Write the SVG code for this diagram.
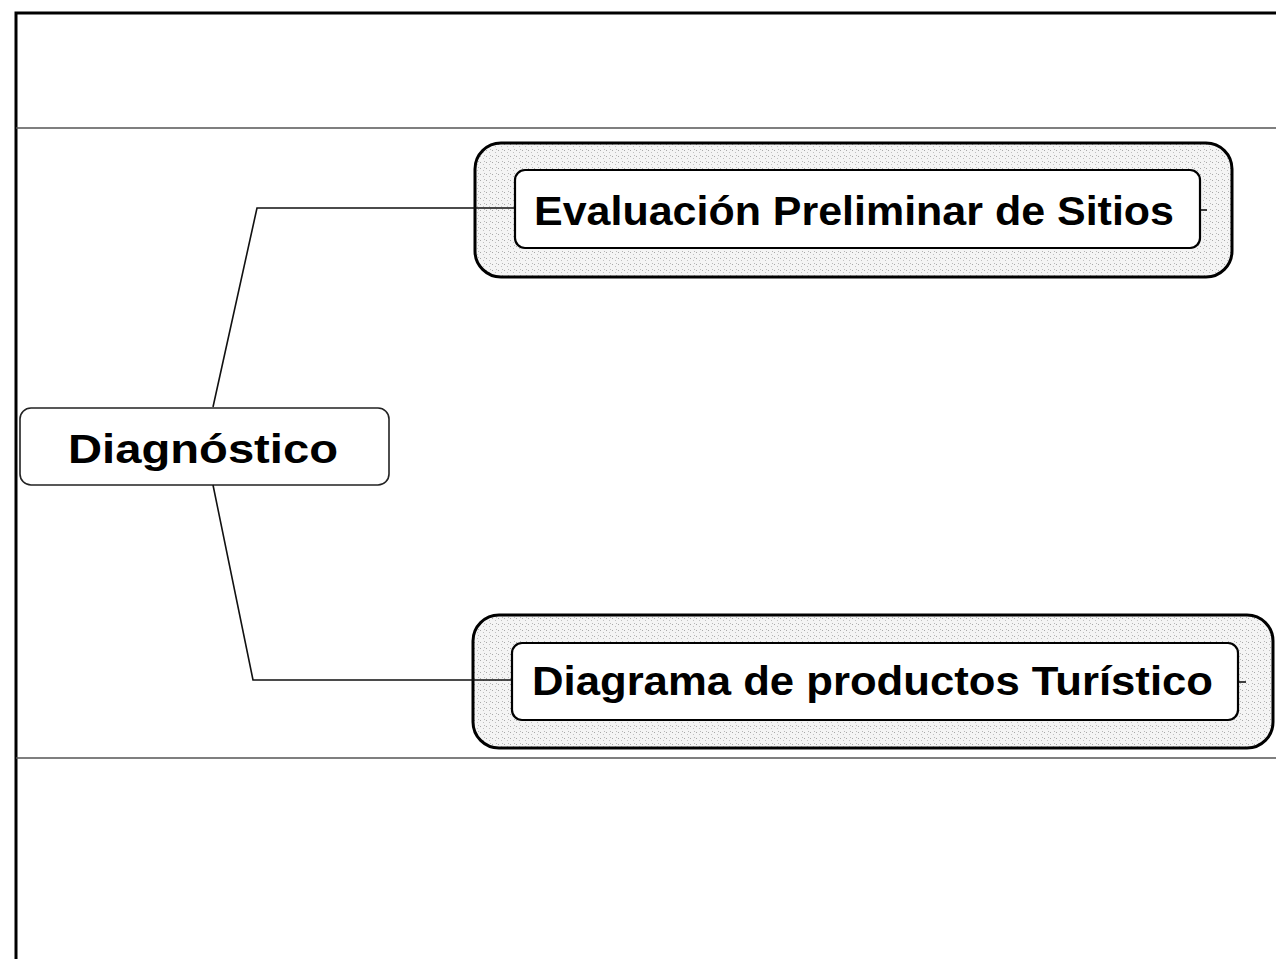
<svg xmlns="http://www.w3.org/2000/svg" width="1276" height="959" viewBox="0 0 1276 959">
<defs>
<pattern id="speck" width="6" height="6" patternUnits="userSpaceOnUse">
<rect width="6" height="6" fill="#f4f4f4"/>
<rect x="0" y="0" width="1" height="1" fill="#a8a8a8"/>
<rect x="3" y="2" width="1" height="1" fill="#c0c0c0"/>
<rect x="4" y="5" width="1" height="1" fill="#b8b8b8"/>
</pattern>
</defs>
<style>
.frame{fill:none;stroke:#000;stroke-width:3}
.sep{fill:none;stroke:#555;stroke-width:1.5}
.conn{fill:none;stroke:#111;stroke-width:1.6}
.outer{fill:url(#speck);stroke:#000;stroke-width:3}
.inner{fill:#fff;stroke:#000;stroke-width:2.2}
.root{fill:#fff;stroke:#222;stroke-width:1.6}
.lbl{font-family:"Liberation Sans",Arial,sans-serif;font-weight:bold;fill:#000}
</style>
<rect width="1276" height="959" fill="#fff"/>
<g id="frame">
<path class="frame" d="M16,959 V13 H1276"/>
<line class="sep" x1="16" y1="128" x2="1276" y2="128"/>
<line class="sep" x1="16" y1="758" x2="1276" y2="758"/>
</g>
<g id="node-diagnostico">
<rect class="root" x="20" y="408" width="369" height="77" rx="11"/>
<text class="lbl" x="68" y="463" font-size="40" textLength="270" lengthAdjust="spacingAndGlyphs">Diagnóstico</text>
</g>
<g id="node-evaluacion">
<rect class="outer" x="475" y="143" width="757" height="134" rx="26"/>
<rect class="inner" x="515" y="170" width="685" height="78" rx="10"/>
<text class="lbl" x="534" y="225" font-size="41" textLength="640" lengthAdjust="spacingAndGlyphs">Evaluación Preliminar de Sitios</text>
</g>
<g id="node-diagrama">
<rect class="outer" x="473" y="615" width="800" height="133" rx="26"/>
<rect class="inner" x="512" y="643" width="726" height="77" rx="10"/>
<text class="lbl" x="532" y="695" font-size="41" textLength="681" lengthAdjust="spacingAndGlyphs">Diagrama de productos Turístico</text>
</g>
<g id="connectors">
<polyline class="conn" points="213,407 257,208 514,208"/>
<polyline class="conn" points="213,485 253,680 511,680"/>
<line class="conn" x1="1201" y1="210" x2="1207" y2="210"/>
<line class="conn" x1="1239" y1="682" x2="1246" y2="682"/>
</g>
</svg>
